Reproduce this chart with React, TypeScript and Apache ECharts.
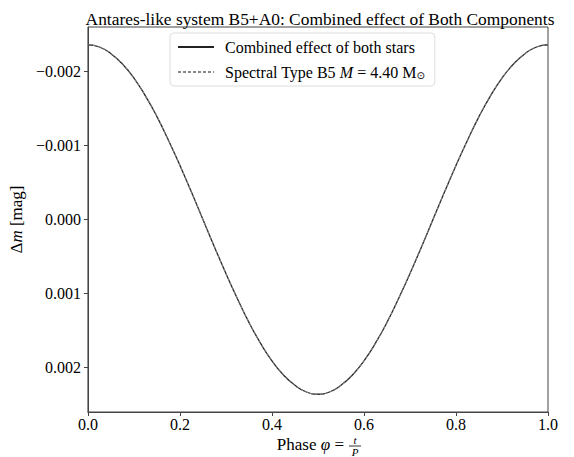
import React, { useEffect, useRef } from "react";
import * as echarts from "echarts";

const phase = [0, 0.025, 0.05, 0.075, 0.1, 0.125, 0.15, 0.175, 0.2, 0.225, 0.25, 0.275, 0.3, 0.325, 0.35, 0.375, 0.4, 0.425, 0.45, 0.475, 0.5,
  0.525, 0.55, 0.575, 0.6, 0.625, 0.65, 0.675, 0.7, 0.725, 0.75, 0.775, 0.8, 0.825, 0.85, 0.875, 0.9, 0.925, 0.95, 0.975, 1.0];
const combined = [-0.00236, -0.00233, -0.00224, -0.0021, -0.00191, -0.00167, -0.00139, -0.00107, -0.00073, -0.00037, 0.0,
  0.00037, 0.00073, 0.00107, 0.00139, 0.00167, 0.00191, 0.0021, 0.00224, 0.00233, 0.00236,
  0.00233, 0.00224, 0.0021, 0.00191, 0.00167, 0.00139, 0.00107, 0.00073, 0.00037, 0.0,
  -0.00037, -0.00073, -0.00107, -0.00139, -0.00167, -0.00191, -0.0021, -0.00224, -0.00233, -0.00236];
const starB5 = [-0.00236, -0.00233, -0.00224, -0.0021, -0.00191, -0.00167, -0.00139, -0.00107, -0.00073, -0.00037, 0.0,
  0.00037, 0.00073, 0.00107, 0.00139, 0.00167, 0.00191, 0.0021, 0.00224, 0.00233, 0.00236,
  0.00233, 0.00224, 0.0021, 0.00191, 0.00167, 0.00139, 0.00107, 0.00073, 0.00037, 0.0,
  -0.00037, -0.00073, -0.00107, -0.00139, -0.00167, -0.00191, -0.0021, -0.00224, -0.00233, -0.00236];
const yTicks = [-0.002, -0.001, 0, 0.001, 0.002];

const FONT = "Liberation Serif";

export default function App() {
  const ref = useRef<HTMLDivElement>(null);
  useEffect(() => {
    const chart = echarts.init(ref.current!, null, { renderer: "svg" });
    const fmtY = (v: number) => (v < 0 ? "\u2212" : "") + Math.abs(v).toFixed(3);
    chart.setOption({
      animation: false,
      backgroundColor: "#ffffff",
      title: {
        text: "Antares-like system B5+A0: Combined effect of Both Components",
        left: 315,
        textAlign: "center",
        top: 5,
        textStyle: { fontFamily: FONT, fontSize: 17.4, fontWeight: "normal", color: "#000" },
      },
      grid: { left: 82, right: 26, top: 27, bottom: 45, show: true, borderColor: "#444", borderWidth: 1 },
      legend: {
        left: 170,
        top: 33,
        orient: "vertical",
        itemWidth: 36,
        itemHeight: 10,
        itemGap: 9,
        padding: [6, 10, 6, 7],
        borderColor: "#dddddd",
        borderWidth: 1,
        borderRadius: 4,
        backgroundColor: "rgba(255,255,255,0.8)",
        itemStyle: { opacity: 0 },
        textStyle: {
          fontFamily: FONT,
          fontSize: 16,
          color: "#000",
          padding: [0, 0, 0, 6],
          rich: {
            i: { fontFamily: FONT, fontSize: 16, fontStyle: "italic", color: "#000" },
            s: { fontFamily: "DejaVu Sans", fontSize: 10, color: "#000", padding: [6, 0, 0, 0] },
          },
        },
        formatter: (name: string) =>
          name === "b5" ? "Spectral Type B5 {i|M} = 4.40 M{s|\u2299}" : "Combined effect of both stars",
        data: ["comb", "b5"],
      },
      xAxis: {
        type: "value",
        min: 0,
        max: 1,
        interval: 0.2,
        axisLine: { show: true, onZero: false, lineStyle: { color: "#444", width: 1 } },
        axisTick: { show: true, inside: false, length: 4, lineStyle: { color: "#444" } },
        splitLine: { show: false },
        axisLabel: {
          fontFamily: FONT,
          fontSize: 16,
          color: "#000",
          margin: 4,
          formatter: (v: number) => v.toFixed(1),
        },
      },
      yAxis: {
        type: "value",
        inverse: true,
        min: -0.0026,
        max: 0.0026,
        axisLine: { show: true, onZero: false, lineStyle: { color: "#444", width: 1 } },
        axisTick: { show: true, inside: false, length: 4, lineStyle: { color: "#444" }, customValues: yTicks },
        splitLine: { show: false },
        axisLabel: {
          fontFamily: FONT,
          fontSize: 16,
          color: "#000",
          margin: 7,
          customValues: yTicks,
          formatter: fmtY,
        },
        name: "\u0394{i|m} [mag]",
        nameLocation: "middle",
        nameRotate: 90,
        nameGap: 58,
        nameTextStyle: {
          fontFamily: FONT,
          fontSize: 17,
          color: "#000",
          rich: { i: { fontFamily: FONT, fontSize: 17, fontStyle: "italic", color: "#000" } },
        },
      },
      graphic: [
        {
          type: "text",
          x: 344,
          y: 444,
          style: {
            text: "Phase {i|\u03c6} =",
            fontFamily: FONT,
            fontSize: 17,
            fill: "#000",
            align: "right",
            verticalAlign: "middle",
            rich: { i: { fontFamily: FONT, fontSize: 17, fontStyle: "italic", fill: "#000" } },
          },
        },
        {
          type: "text",
          x: 355,
          y: 440,
          style: { text: "t", fontFamily: FONT, fontSize: 11, fontStyle: "italic", fill: "#000", align: "center", verticalAlign: "middle" },
        },
        {
          type: "line",
          shape: { x1: 349, y1: 446, x2: 361, y2: 446 },
          style: { stroke: "#000", lineWidth: 0.8 },
        },
        {
          type: "text",
          x: 355,
          y: 451.5,
          style: { text: "P", fontFamily: FONT, fontSize: 11, fontStyle: "italic", fill: "#000", align: "center", verticalAlign: "middle" },
        },
      ],
      series: [
        {
          name: "comb",
          type: "line",
          data: phase.map((p, i) => [p, combined[i]]),
          smooth: true,
          symbol: "none",
          lineStyle: { color: "#222", width: 1.3 },
          itemStyle: { color: "#222" },
        },
        {
          name: "b5",
          type: "line",
          data: phase.map((p, i) => [p, starB5[i]]),
          smooth: true,
          symbol: "none",
          lineStyle: { color: "#888", width: 1, type: [3, 2] },
          itemStyle: { color: "#888" },
        },
      ],
    });
    return () => chart.dispose();
  }, []);
  return <div ref={ref} style={{ position: "fixed", left: 0, top: 0, width: 574, height: 457 }} />;
}
